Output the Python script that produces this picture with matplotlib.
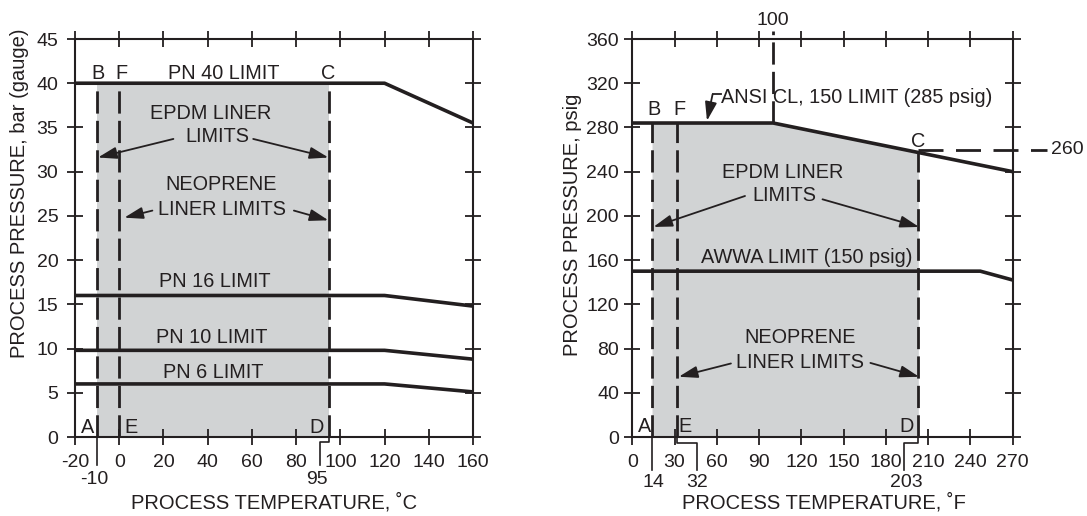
import numpy as np
import matplotlib
matplotlib.use("Agg")
import matplotlib.pyplot as plt

plt.rcParams['font.family'] = ['Liberation Sans', 'DejaVu Sans']
plt.rcParams['axes.unicode_minus'] = False

INK = '#231f20'
SHADE = '#d1d3d4'

# ---------------- data: left chart (°C / bar) ----------------
c_xticks = [-20, 0, 20, 40, 60, 80, 100, 120, 140, 160]
c_yticks = [0, 5, 10, 15, 20, 25, 30, 35, 40, 45]
pn_temp = [-20, 120, 160]
pn40 = [40, 40, 35.5]
pn16 = [16, 16, 14.8]
pn10 = [9.8, 9.8, 8.8]
pn6 = [6, 6, 5.1]
c_epdm = [-10, 95]      # B .. C
c_neo = [0, 95]         # F .. C

# ---------------- data: right chart (°F / psig) ----------------
f_xticks = [0, 30, 60, 90, 120, 150, 180, 210, 240, 270]
f_yticks = [0, 40, 80, 120, 160, 200, 240, 280, 320, 360]
ansi_temp = [0, 100, 270]
ansi = [284, 284, 240]
awwa_temp = [0, 247, 270]
awwa = [150, 150, 142]
f_epdm = [14, 203]      # B .. C
f_neo = [32, 203]       # F .. C
f_ref_temp = 100
f_ref_press = 260

FS = 14.3
DASH = (0, (8, 2.6))

fig = plt.figure(figsize=(10.87, 5.16), dpi=100)
ax1 = fig.add_axes([75 / 1087, 1 - 437 / 516, 398 / 1087, 398 / 516])
ax2 = fig.add_axes([632.3 / 1087, 1 - 437 / 516, 380.4 / 1087, 398 / 516])


def style(ax, xt, yt, pad):
    ax.set_xticks(xt)
    ax.set_xticklabels([str(v) for v in xt])
    ax.set_yticks(yt)
    ax.set_yticklabels([str(v) for v in yt])
    ax.tick_params(axis='both', direction='inout', length=12, width=1.3,
                   top=True, right=True, labeltop=False, labelright=False,
                   labelsize=14, color=INK, labelcolor=INK)
    ax.tick_params(axis='x', pad=6.2)
    ax.tick_params(axis='y', pad=pad)
    for s in ax.spines.values():
        s.set_linewidth(1.5)
        s.set_color(INK)
        s.set_zorder(5)
    ax.set_facecolor('none')


def arrow(ax, tail, tip):
    ax.annotate('', xy=tip, xytext=tail,
                arrowprops=dict(arrowstyle='-|>,head_length=0.95,head_width=0.3',
                                mutation_scale=12, lw=1.3, color=INK,
                                shrinkA=0, shrinkB=0), zorder=6)


def txt(ax, x, y, s, size=FS, **kw):
    kw.setdefault('ha', 'center')
    kw.setdefault('va', 'center')
    ax.text(x, y, s, fontsize=size, color=INK, zorder=6, clip_on=False, **kw)


# ================= LEFT CHART =================
ax1.set_xlim(-20, 160)
ax1.set_ylim(0, 45)
style(ax1, c_xticks, c_yticks, 6)

top_c = np.interp(c_epdm, pn_temp, pn40)
ax1.fill_between(c_epdm, 0, top_c, color=SHADE, lw=0, zorder=0.5)

for ser in (pn40, pn16, pn10, pn6):
    ax1.plot(pn_temp, ser, color=INK, lw=2.6, solid_capstyle='butt', zorder=3)

for x in sorted(set(c_epdm + c_neo)):
    ax1.plot([x, x], [0, np.interp(x, pn_temp, pn40)], color=INK, lw=2,
             ls=DASH, zorder=4)

# leaders below axis
ax1.plot([c_epdm[0], c_epdm[0]], [0, -3.2], color=INK, lw=1.2, clip_on=False)
ax1.plot([c_epdm[1], c_epdm[1], 91, 91], [0, -0.55, -0.55, -3.2], color=INK,
         lw=1.2, clip_on=False)
txt(ax1, -11.3, -4.8, '-10', size=14)
txt(ax1, 89.6, -4.8, '95', size=14)

txt(ax1, -9.6, 41.1, 'B')
txt(ax1, 1.0, 41.1, 'F')
txt(ax1, 47.4, 41.1, 'PN 40 LIMIT')
txt(ax1, 94.3, 41.1, 'C')
txt(ax1, 41.4, 36.6, 'EPDM LINER')
txt(ax1, 44.4, 34.0, 'LIMITS')
arrow(ax1, (24.5, 33.7), (-9.6, 31.6))
arrow(ax1, (60.6, 33.7), (94.6, 31.6))
txt(ax1, 46.3, 28.5, 'NEOPRENE')
txt(ax1, 46.3, 25.7, 'LINER LIMITS')
arrow(ax1, (15.0, 25.6), (2.3, 24.8))
arrow(ax1, (79.0, 25.6), (94.6, 24.5))
txt(ax1, 43.3, 17.6, 'PN 16 LIMIT')
txt(ax1, 41.8, 11.2, 'PN 10 LIMIT')
txt(ax1, 42.5, 7.3, 'PN 6 LIMIT')
txt(ax1, -14.4, 1.1, 'A')
txt(ax1, 5.2, 1.1, 'E')
txt(ax1, 89.3, 1.1, 'D')

ax1.text(-0.1407, 0.1985, 'PROCESS PRESSURE, bar (gauge)', transform=ax1.transAxes,
         rotation=90, ha='center', va='bottom', fontsize=14.5, color=INK)
fig.text(274 / 1087, 1 - 502.5 / 516, 'PROCESS TEMPERATURE, \u02daC',
         ha='center', va='center', fontsize=14.5, color=INK)

# ================= RIGHT CHART =================
ax2.set_xlim(0, 270)
ax2.set_ylim(0, 360)
style(ax2, f_xticks, f_yticks, 3.5)

xs = [f_epdm[0], f_ref_temp, f_epdm[1]]
ax2.fill_between(xs, 0, np.interp(xs, ansi_temp, ansi), color=SHADE, lw=0,
                 zorder=0.5)

ax2.plot(ansi_temp, ansi, color=INK, lw=2.6, zorder=3)
ax2.plot(awwa_temp, awwa, color=INK, lw=2.6, zorder=3)

for x in sorted(set(f_epdm + f_neo)):
    ax2.plot([x, x], [0, np.interp(x, ansi_temp, ansi)], color=INK, lw=2,
             ls=DASH, zorder=4)

# 100 °F reference line and 260 psig reference
ax2.plot([f_ref_temp, f_ref_temp], [np.interp(f_ref_temp, ansi_temp, ansi), 367],
         color=INK, lw=2, ls=DASH, clip_on=False, zorder=4)
txt(ax2, f_ref_temp, 377, str(f_ref_temp), size=14)
ax2.plot([f_epdm[1], 294], [f_ref_press, f_ref_press], color=INK, lw=2,
         ls=(0, (9, 4.5)), clip_on=False, zorder=4)
txt(ax2, 297, f_ref_press, str(f_ref_press), size=14, ha='left')

# leaders below axis
ax2.plot([f_epdm[0], f_epdm[0]], [0, -30], color=INK, lw=1.2, clip_on=False)
ax2.plot([f_neo[0], f_neo[0], 45.6, 45.6], [0, -5.2, -5.2, -30], color=INK,
         lw=1.2, clip_on=False)
ax2.plot([f_neo[1], f_neo[1], 193, 193], [0, -5.2, -5.2, -30], color=INK,
         lw=1.2, clip_on=False)
txt(ax2, 15, -41.6, str(f_epdm[0]), size=14)
txt(ax2, 46.3, -41.6, str(f_neo[0]), size=14)
txt(ax2, 194.7, -41.6, str(f_neo[1]), size=14)

txt(ax2, 15.5, 296, 'B')
txt(ax2, 33.5, 296, 'F')
txt(ax2, 203, 267, 'C')
txt(ax2, 63, 307, 'ANSI CL, 150 LIMIT (285 psig)', ha='left')
ax2.plot([63, 57], [310, 310], color=INK, lw=1.3, zorder=6)
arrow(ax2, (57, 310), (53, 286))
txt(ax2, 107, 239.5, 'EPDM LINER')
txt(ax2, 108, 218, 'LIMITS')
arrow(ax2, (80, 218), (15, 190))
arrow(ax2, (135, 215), (203.5, 190))
txt(ax2, 124, 162.5, 'AWWA LIMIT (150 psig)')
txt(ax2, 119, 90, 'NEOPRENE')
txt(ax2, 119, 67, 'LINER LIMITS')
arrow(ax2, (70, 66.5), (33, 54.5))
arrow(ax2, (169, 67), (203.5, 54.5))
txt(ax2, 9, 9.5, 'A')
txt(ax2, 37.6, 9.5, 'E')
txt(ax2, 194.5, 9.5, 'D')

ax2.text(-0.157, 0.2035, 'PROCESS PRESSURE, psig', transform=ax2.transAxes,
         rotation=90, ha='center', va='bottom', fontsize=14.5, color=INK)
fig.text(824 / 1087, 1 - 502.5 / 516, 'PROCESS TEMPERATURE, \u02daF',
         ha='center', va='center', fontsize=14.5, color=INK)

fig.savefig('out.png', dpi=100)
